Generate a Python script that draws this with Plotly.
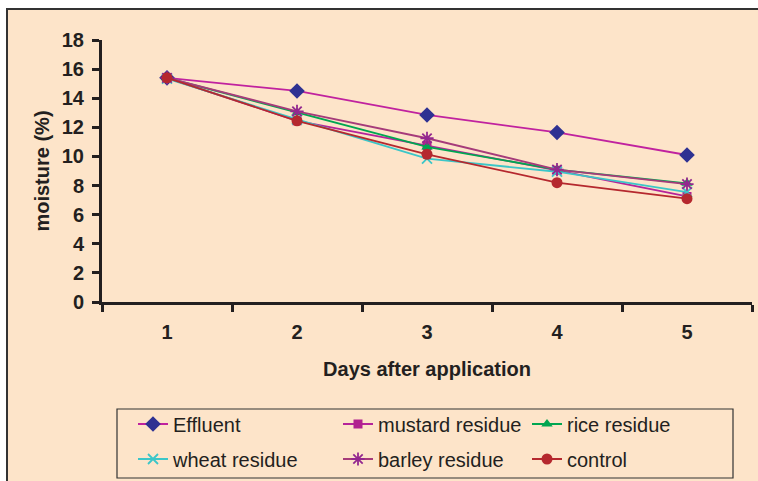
import plotly.graph_objects as go

days = ["1", "2", "3", "4", "5"]
effluent = [15.4, 14.5, 12.85, 11.65, 10.1]
mustard = [15.4, 12.45, 10.75, 9.05, 7.25]
rice = [15.4, 13.0, 10.65, 9.1, 8.15]
wheat = [15.35, 12.55, 9.85, 8.95, 7.55]
barley = [15.4, 13.1, 11.25, 9.1, 8.1]
control = [15.4, 12.45, 10.15, 8.2, 7.1]
y_ticks = [0, 2, 4, 6, 8, 10, 12, 14, 16, 18]

PEACH = "#FDE4C9"
DARK = "#231F20"
FAM = "Liberation Sans, Arial, sans-serif"

W, H = 758, 481
L, R, T, B = 102, 6, 40, 179
pw, ph = W - L - R, H - T - B

def px(x):
    return (x - L) / pw

def py(y):
    return (H - B - y) / ph

# legend slot positions (pixels): text-left x, row-centre y
leg_pos = [(133, 424), (338, 424), (527, 424), (133, 459), (338, 459), (527, 459)]

series = [
    ("Effluent", effluent, "#C0229F", "#2E3192", "diamond", 12),
    ("mustard residue", mustard, "#B5239A", "#B1218F", "square", 9),
    ("rice residue", rice, "#00A651", "#00A651", "triangle-up", 10),
    ("wheat residue", wheat, "#3CC6C8", "#3CC6C8", "x-thin-open", 10),
    ("barley residue", barley, "#A63B7A", "#93278F", "asterisk-open", 11),
    ("control", control, "#B5282E", "#B5282E", "circle", 11),
]

fig = go.Figure()
legend_layouts = {}
for i, (name, vals, lc, mc, sym, size) in enumerate(series):
    open_sym = sym.endswith("open")
    lid = "legend" if i == 0 else f"legend{i + 1}"
    fig.add_trace(go.Scatter(
        x=days, y=vals, name=name, mode="lines+markers", legend=lid,
        line=dict(color=lc, width=1.8),
        marker=dict(symbol=sym, size=size, color=mc,
                    line=dict(color=mc, width=1.8 if open_sym else 0)),
    ))
    lx, ly = leg_pos[i]
    legend_layouts[lid] = dict(
        x=px(lx), y=py(ly), xanchor="left", yanchor="middle",
        bgcolor="rgba(0,0,0,0)", borderwidth=0,
        font=dict(family=FAM, size=20, color=DARK), itemclick=False,
    )

fig.add_shape(type="rect", xref="paper", yref="paper",
              x0=px(7), y0=py(9), x1=px(820), y1=py(520),
              fillcolor=PEACH, line=dict(color="#333333", width=2), layer="below")
fig.add_shape(type="rect", xref="paper", yref="paper",
              x0=px(117), y0=py(409), x1=px(733), y1=py(478),
              fillcolor="rgba(0,0,0,0)", line=dict(color="#333333", width=1.2), layer="below")

fig.update_layout(
    width=W, height=H,
    margin=dict(l=L, r=R, t=T, b=B, autoexpand=False),
    paper_bgcolor="white",
    plot_bgcolor=PEACH,
    showlegend=True,
    font=dict(family=FAM, color=DARK),
    xaxis=dict(
        type="category", range=[-0.5, 4.5], tickson="boundaries",
        ticks="outside", ticklen=7, tickwidth=3, tickcolor=DARK,
        showline=True, linecolor=DARK, linewidth=3, showgrid=False, zeroline=False,
        tickfont=dict(size=20, color=DARK, family=FAM, weight="bold"),
        ticklabelstandoff=10,
        title=dict(text="<b>Days after application</b>", standoff=20,
                   font=dict(size=20, color=DARK, family=FAM)),
    ),
    yaxis=dict(
        range=[0, 18], tickvals=y_ticks, ticks="outside", ticklen=7, tickwidth=3,
        tickcolor=DARK, showline=True, linecolor=DARK, linewidth=3,
        showgrid=False, zeroline=False,
        tickfont=dict(size=20, color=DARK, family=FAM, weight="bold"),
        ticklabelstandoff=4,
        title=dict(text="<b>moisture (%)</b>", standoff=7,
                   font=dict(size=20, color=DARK, family=FAM)),
    ),
    **legend_layouts,
)

fig.write_html("out.html")
